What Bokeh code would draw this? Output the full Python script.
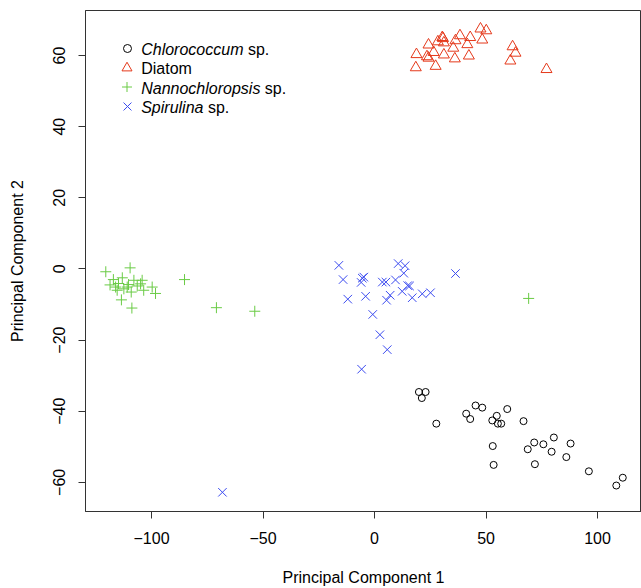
from bokeh.plotting import figure
from bokeh.models import (Range1d, FixedTicker, Legend, LegendItem, Label)
from bokeh.core.properties import value
from bokeh.embed import file_html
from bokeh.resources import INLINE

# ---- data ----
chl_x = [19.9, 22.9, 21.2, 27.7, 41.1, 42.9, 45.3, 48.3, 52.8, 54.8, 55.3, 56.8, 59.5, 66.8,
         53.0, 53.4, 68.7, 71.6, 75.7, 80.4, 79.4, 87.9, 86.0, 71.9, 96.1, 108.4, 111.3]
chl_y = [-34.6, -34.6, -36.3, -43.5, -40.7, -42.2, -38.4, -39.0, -42.6, -41.3, -43.5, -43.5, -39.4, -42.8,
         -49.8, -55.1, -50.7, -48.8, -49.3, -47.4, -51.4, -49.1, -52.9, -54.9, -56.9, -60.9, -58.7]

dia_x = [18.8, 18.5, 24.2, 23.5, 24.2, 26.5, 27.4, 28.4, 30.4, 30.7, 31.1, 31.1, 35.3, 36.3,
         36.0, 38.3, 41.6, 42.9, 42.3, 47.5, 50.1, 48.3, 61.9, 63.2, 60.9, 77.1]
dia_y = [60.3, 56.6, 63.0, 59.7, 59.3, 60.9, 57.0, 63.9, 65.1, 64.8, 63.6, 60.2, 62.1, 64.2,
         59.1, 65.6, 63.1, 65.1, 59.9, 67.5, 67.0, 64.4, 62.5, 60.7, 58.5, 56.1]

nan_x = [-120.5, -109.6, -117.1, -118.6, -113.1, -116.1, -115.4, -112.4, -110.9, -107.9, -109.1,
         -106.4, -104.9, -104.2, -103.5, -99.7, -98.2, -113.5, -108.8, -114.8, -110.3,
         -85.2, -70.9, -53.7, 69.1]
nan_y = [-0.8, 0.3, -3.0, -4.5, -2.5, -5.1, -6.0, -5.6, -5.1, -3.2, -6.5,
         -4.8, -4.2, -3.2, -6.0, -5.1, -6.9, -8.7, -11.0, -4.1, -4.4,
         -3.0, -10.9, -11.9, -8.3]

spi_x = [-16.0, -14.1, -12.0, -5.5, -4.8, -6.0, -4.0, 3.5, 5.1, 9.4, 10.6, 13.7, 13.1, 12.4,
         14.9, 15.7, 16.9, 21.4, 25.1, 7.0, 5.4, 36.3, -0.8, 2.4, 5.7, -5.8, -68.2]
spi_y = [1.0, -3.0, -8.5, -2.6, -2.3, -3.8, -7.7, -3.7, -3.7, -3.1, 1.5, 0.9, -1.2, -6.3,
         -4.7, -4.8, -8.1, -7.0, -6.7, -7.4, -8.8, -1.3, -12.8, -18.5, -22.7, -28.2, -62.8]

x_ticks = [-100, -50, 0, 50, 100]
y_ticks = [-60, -40, -20, 0, 20, 40, 60]

legend_names = ["Chlorococcum", "Diatom", "Nannochloropsis", "Spirulina"]
legend_suffix = ["sp.", "", "sp.", "sp."]
legend_is_italic = [True, False, True, True]

FONT = "Liberation Sans"
AX = "#333333"
RED = "#E5391B"
GREEN = "#6ACB45"
BLUE = "#3B4BF0"

X_LO, X_HI = -129.6, 119.7
Y_LO, Y_HI = -68.2, 72.65
FRAME_H = 501

p = figure(width=641, height=588, output_backend="svg", toolbar_location=None,
           x_range=Range1d(X_LO, X_HI), y_range=Range1d(Y_LO, Y_HI),
           min_border_left=85, min_border_top=10, min_border_right=0, min_border_bottom=77,
           x_axis_label="Principal Component 1", y_axis_label="Principal Component 2")
p.outline_line_color = AX
p.grid.visible = False
p.background_fill_color = "white"

for ax, ticks in ((p.xaxis[0], x_ticks), (p.yaxis[0], y_ticks)):
    ax.ticker = FixedTicker(ticks=ticks)
    ax.minor_tick_line_color = None
    ax.major_tick_in = 0
    ax.major_tick_out = 7
    ax.major_tick_line_color = AX
    ax.axis_line_color = AX
    ax.major_label_text_font = FONT
    ax.major_label_text_font_size = "16px"
    ax.major_label_text_color = "black"
    ax.axis_label_text_font = FONT
    ax.axis_label_text_font_size = "16px"
    ax.axis_label_text_font_style = "normal"
    ax.axis_label_text_color = "black"

p.xaxis.major_label_standoff = 13
p.xaxis.axis_label_standoff = 22
p.yaxis.major_label_orientation = "vertical"
p.yaxis.major_label_standoff = 13
p.yaxis.axis_label_standoff = 25

r_chl = p.scatter(chl_x, chl_y, marker="circle", size=7, fill_color=None,
                  line_color="black", line_width=1)
r_dia = p.scatter(dia_x, dia_y, marker="triangle", size=11, fill_color=None,
                  line_color=RED, line_width=1)
r_nan = p.scatter(nan_x, nan_y, marker="cross", size=11, line_color=GREEN, line_width=1)
r_spi = p.scatter(spi_x, spi_y, marker="x", size=12, line_color=BLUE, line_width=1)

# legend: one single-item legend per row so each symbol gets its own size
cx = 41.7            # symbol centre, px from frame left
row0, pitch = 37.7, 19.5   # first row centre (px from frame top) and row pitch
glyph_boxes = [20, 25, 25, 28]
for i, (r, g) in enumerate(zip((r_chl, r_dia, r_nan, r_spi), glyph_boxes)):
    cy = row0 + i * pitch
    lg = Legend(items=[LegendItem(label=value(" "), renderers=[r])],
                location=(cx - g / 2, FRAME_H - cy - g / 2), padding=0, margin=0, spacing=0,
                glyph_height=g, glyph_width=g, label_height=g, label_width=0,
                label_standoff=0, label_text_font_size="1px",
                border_line_color=None, background_fill_alpha=0)
    p.add_layout(lg)

def text_width(s, size=16.0):
    w = {'C': .722, 'h': .556, 'l': .222, 'o': .556, 'r': .333, 'c': .5, 'u': .556, 'm': .833,
         'N': .722, 'a': .556, 'n': .556, 'p': .556, 's': .5, 'i': .222, 'S': .667, 'D': .722,
         't': .278, ' ': .278, '.': .278}
    return sum(w.get(ch, .556) for ch in s) * size

x0 = 55.7
base_top = FRAME_H - 38.8
for i, (name, suf, it) in enumerate(zip(legend_names, legend_suffix, legend_is_italic)):
    yy = base_top - i * pitch
    p.add_layout(Label(x=x0, y=yy, x_units="screen", y_units="screen", text=name,
                       text_font=FONT, text_font_size="16px",
                       text_font_style="italic" if it else "normal",
                       text_baseline="alphabetic", text_color="black"))
    if suf:
        p.add_layout(Label(x=x0 + text_width(name + " "), y=yy, x_units="screen", y_units="screen",
                           text=suf, text_font=FONT, text_font_size="16px",
                           text_baseline="alphabetic", text_color="black"))

open("out.html", "w").write(file_html(p, INLINE))
